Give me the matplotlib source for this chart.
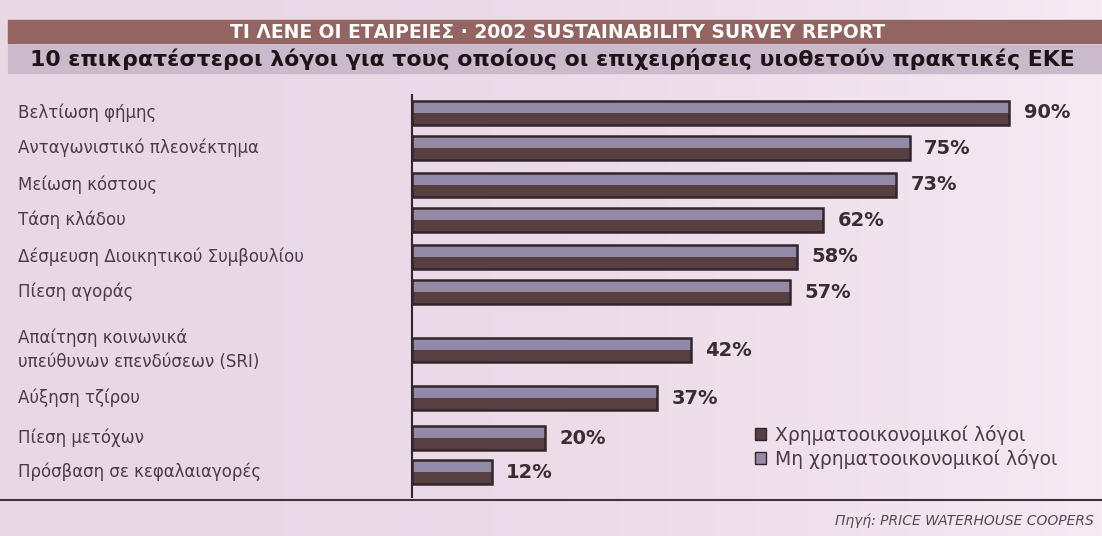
import numpy as np
import matplotlib
matplotlib.use("Agg")
import matplotlib.pyplot as plt
from matplotlib.patches import Rectangle

# survey data
reasons = [
    "Βελτίωση φήμης",
    "Ανταγωνιστικό πλεονέκτημα",
    "Μείωση κόστους",
    "Τάση κλάδου",
    "Δέσμευση Διοικητικού Συμβουλίου",
    "Πίεση αγοράς",
    "Απαίτηση κοινωνικά\nυπεύθυνων επενδύσεων (SRI)",
    "Αύξηση τζίρου",
    "Πίεση μετόχων",
    "Πρόσβαση σε κεφαλαιαγορές",
]
shares = [90, 75, 73, 62, 58, 57, 42, 37, 20, 12]
legend_labels = ["Χρηματοοικονομικοί λόγοι", "Μη χρηματοοικονομικοί λόγοι"]
title = "ΤΙ ΛΕΝΕ ΟΙ ΕΤΑΙΡΕΙΕΣ · 2002 SUSTAINABILITY SURVEY REPORT"
subtitle = "10 επικρατέστεροι λόγοι για τους οποίους οι επιχειρήσεις υιοθετούν πρακτικές ΕΚΕ"
source = "Πηγή: PRICE WATERHOUSE COOPERS"

C = {
    "bg": "#e9d7e4", "band": "#946462", "band2": "#cbbacb",
    "dark": "#574041", "light": "#928aa6", "edge": "#33252b",
    "text": "#4a3d47", "val": "#3a2c33",
}

W, H = 1102, 536
fig = plt.figure(figsize=(W / 100, H / 100), dpi=100)
fig.patch.set_facecolor(C["bg"])

# soft lighter wash towards the right side
grad = np.linspace(0, 1, 256)[None, :] ** 2
bg = fig.add_axes([0, 0, 1, 1], zorder=-5)
bg.imshow(grad, aspect="auto", cmap=matplotlib.colors.LinearSegmentedColormap.from_list(
    "wash", [C["bg"], "#f6eaf3"]), extent=[0, 1, 0, 1])
bg.axis("off")


def fy(py):
    return 1 - py / H


# header bands
fig.patches.append(Rectangle((8 / W, fy(43)), 1, 23 / H, transform=fig.transFigure,
                             color=C["band"], zorder=0))
fig.patches.append(Rectangle((8 / W, fy(73)), 1, 28 / H, transform=fig.transFigure,
                             color=C["band2"], zorder=0))
fig.text(558 / W, fy(32), title, color="white", fontsize=13.5, fontweight="bold",
         ha="center", va="center")
fig.text(552 / W, fy(59), subtitle, color="#1e1418", fontsize=15.8, fontweight="bold",
         ha="center", va="center")

# bars: row centres in pixel units (SRI row is taller for two-line label)
ax = fig.add_axes([412 / W, fy(497), 1 - 412 / W, (497 - 95) / H])
ax.set_facecolor("none")
ypos = np.array([113, 148, 185, 220, 257, 292, 350, 398, 438, 472])
h = 24

dark = ax.barh(ypos + h * 0.25, shares, height=h * 0.5, color=C["dark"],
               label=legend_labels[0], zorder=2)
light = ax.barh(ypos - h * 0.22, shares, height=h * 0.44, color=C["light"],
                label=legend_labels[1], zorder=2)
ax.barh(ypos, shares, height=h, fill=False, edgecolor=C["edge"], linewidth=1.8, zorder=3)

for y, v in zip(ypos, shares):
    ax.text(v + 2.2, y, f"{v}%", va="center", ha="left", fontsize=14,
            fontweight="bold", color=C["val"])

trans = matplotlib.transforms.blended_transform_factory(fig.transFigure, ax.transData)
for y, lab in zip(ypos, reasons):
    ax.text(18 / W, y, lab, transform=trans, va="center", ha="left", fontsize=12,
            color=C["text"], linespacing=1.45)

ax.set_xlim(0, 104)
ax.set_ylim(497, 95)
ax.set_xticks([]); ax.set_yticks([])
for s in ["top", "right", "bottom"]:
    ax.spines[s].set_visible(False)
ax.spines["left"].set_color(C["edge"])
ax.spines["left"].set_linewidth(1.5)

leg = ax.legend(handles=[dark, light], loc="upper left",
                bbox_to_anchor=((755 - 412) / (W - 412), 1 - (425 - 95) / (497 - 95)),
                frameon=False, fontsize=13.5, handlelength=0.6, handleheight=0.6,
                handletextpad=0.45, labelspacing=0.2, borderpad=0, borderaxespad=0)
for t in leg.get_texts():
    t.set_color(C["text"])
for p in leg.legend_handles:
    p.set_edgecolor(C["edge"])

# footer rule and source
fig.add_artist(plt.Line2D([0, 1], [fy(500), fy(500)], transform=fig.transFigure,
                          color="#3f3238", linewidth=1.5))
fig.text(1094 / W, fy(521), source, ha="right", va="center", fontsize=10,
         style="italic", color="#5a4753")

fig.savefig("out.png", dpi=100, facecolor=fig.get_facecolor())
